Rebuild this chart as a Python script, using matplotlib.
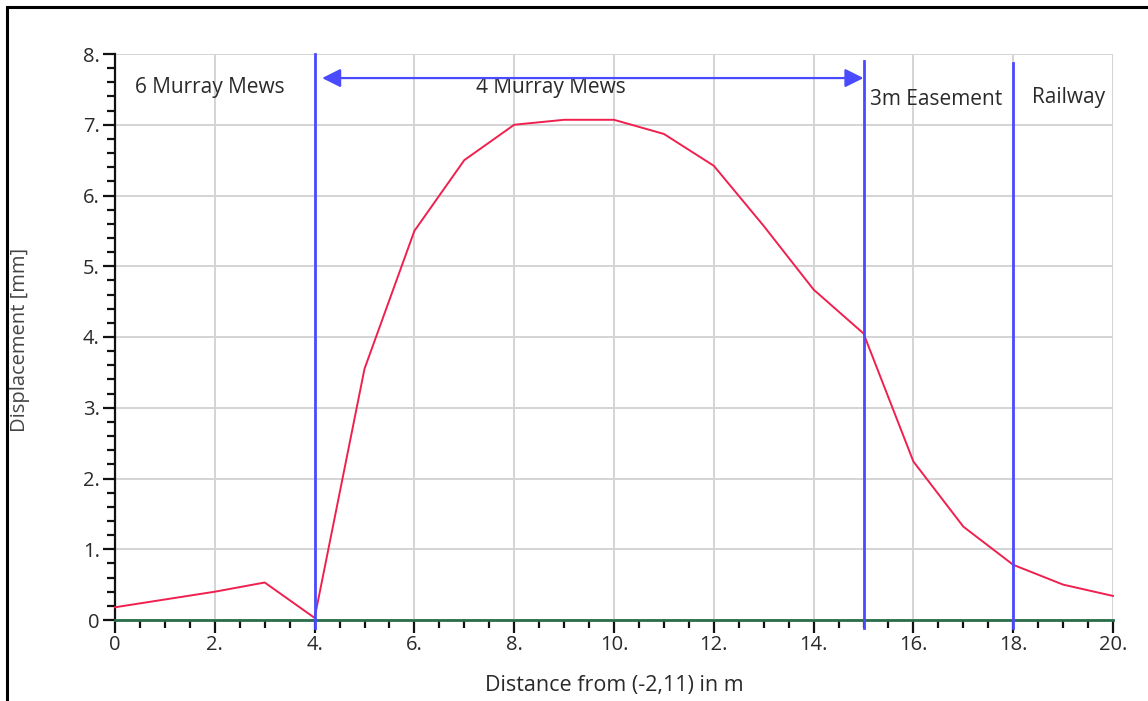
import matplotlib
matplotlib.use("Agg")
import matplotlib.pyplot as plt
from matplotlib.ticker import MultipleLocator, FixedLocator, FixedFormatter
from matplotlib.patches import Rectangle

plt.rcParams['font.family'] = ['Open Sans', 'DejaVu Sans']

# Displacement profile along the section
distance = [0, 1, 2, 3, 4, 5, 6, 7, 8, 9, 10, 11, 12, 13, 14, 15, 16, 17, 18, 19, 20]
displacement = [0.18, 0.29, 0.40, 0.53, 0.03, 3.55, 5.50, 6.50, 7.00, 7.07, 7.07,
                6.87, 6.42, 5.57, 4.67, 4.05, 2.24, 1.32, 0.78, 0.50, 0.34]

# Property boundaries
boundaries = [4, 15, 18]
boundary_tops = [8.0, 7.9, 7.87]

# Zone labels
zone_names = ["6 Murray Mews", "4 Murray Mews", "3m Easement", "Railway"]
zone_x = [0.4, 8.74, 15.13, 18.38]
zone_y = [7.52, 7.52, 7.36, 7.39]
zone_ha = ["left", "center", "left", "left"]

x_ticks = [0, 2, 4, 6, 8, 10, 12, 14, 16, 18, 20]
x_labels = ["0", "2.", "4.", "6.", "8.", "10.", "12.", "14.", "16.", "18.", "20."]
y_ticks = [0, 1, 2, 3, 4, 5, 6, 7, 8]
y_labels = ["0", "1.", "2.", "3.", "4.", "5.", "6.", "7.", "8."]

blue = "#4a4aff"
red = "#f0204e"
green = "#2a6e4a"
text_col = "#2a2a2a"

W, H = 1148, 701
fig = plt.figure(figsize=(W / 100, H / 100), dpi=100)
ax = fig.add_axes([115 / W, 1 - 620 / H, (1113 - 115) / W, (620 - 54) / H])

ax.set_xlim(0, 20)
ax.set_ylim(0, 8)

ax.xaxis.set_major_locator(FixedLocator(x_ticks))
ax.xaxis.set_major_formatter(FixedFormatter(x_labels))
ax.xaxis.set_minor_locator(MultipleLocator(0.5))
ax.yaxis.set_major_locator(FixedLocator(y_ticks))
ax.yaxis.set_major_formatter(FixedFormatter(y_labels))
ax.yaxis.set_minor_locator(MultipleLocator(0.2))

ax.grid(True, which="major", color="#d4d4d4", linewidth=1.4)
ax.set_axisbelow(True)

for side in ["top", "right"]:
    ax.spines[side].set_visible(False)
ax.spines["left"].set_color("#111111")
ax.spines["left"].set_linewidth(1.6)
ax.spines["bottom"].set_color(green)
ax.spines["bottom"].set_linewidth(2.0)

ax.tick_params(axis="both", which="major", length=9, width=1.6, color="#111111",
               labelsize=14.5, labelcolor=text_col, pad=2)
ax.tick_params(axis="both", which="minor", length=6, width=1.6, color="#111111")

ax.plot(distance, displacement, color=red, linewidth=1.4, zorder=3, clip_on=False)

for bx, top in zip(boundaries, boundary_tops):
    ax.plot([bx, bx], [-0.12, top], color=blue, linewidth=2.0, zorder=4, clip_on=False)

ax.annotate("", xy=(15, 7.66), xytext=(4.15, 7.66),
            arrowprops=dict(arrowstyle="<|-|>", color=blue, linewidth=1.6,
                            mutation_scale=28, shrinkA=0, shrinkB=0),
            zorder=5)

for name, tx, ty, ha in zip(zone_names, zone_x, zone_y, zone_ha):
    ax.text(tx, ty, name, ha=ha, va="center", fontsize=15, color=text_col, clip_on=False)

# Axis titles placed in figure pixels
fig.text(614 / W, 1 - 685 / H, "Distance from (-2,11) in m", ha="center", va="center",
         fontsize=15.5, color=text_col)
fig.text(20 / W, 1 - 340 / H, "Displacement [mm]", ha="center", va="center",
         rotation=90, fontsize=14.5, color="#444444")

# Outer frame
fig.patches.append(Rectangle((7 / W, -0.1), 1.2, (H - 6) / H + 0.1 - 0.002,
                             transform=fig.transFigure, fill=False,
                             edgecolor="#000000", linewidth=2.2))

fig.savefig("out.png", dpi=100, facecolor="white")
